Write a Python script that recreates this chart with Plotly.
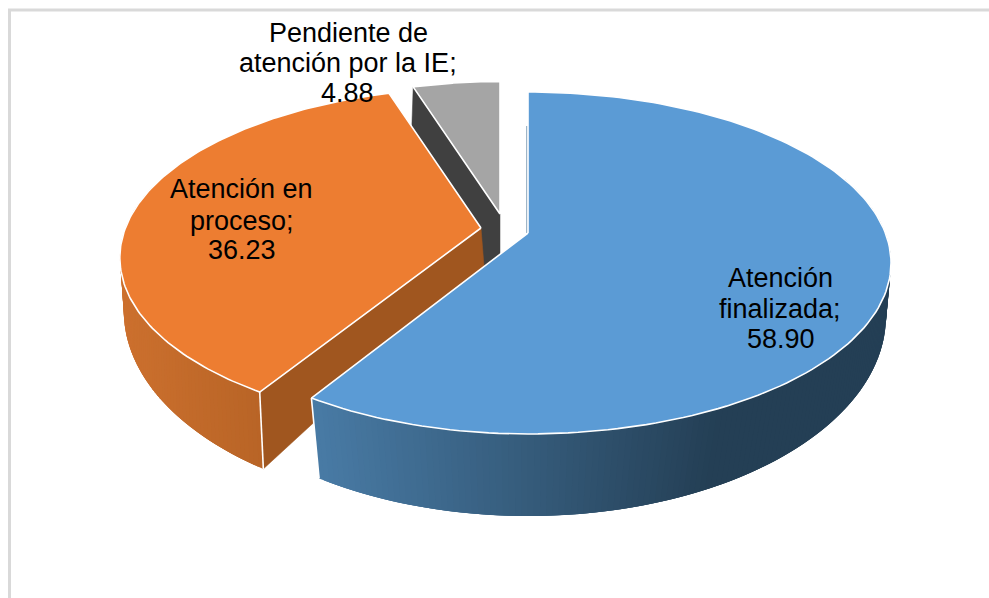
import numpy as np
import plotly.graph_objects as go

# ---- data ----
categories = ["Atención finalizada", "Atención en proceso", "Pendiente de atención por la IE"]
values = [58.90, 36.23, 4.88]
value_labels = ["58.90", "36.23", "4.88"]

# ---- geometry of the perspective pie (pixels) ----
W, H = 989, 598
RX, RY, K = 357.4, 165.7, 0.1754
APEX = [(528, 233), (481, 228), (500, 214)]
APEX_BOTTOM = [[(528, 271)], [(484, 266)], [(478, 272), (500, 260)]]
RADIUS = [1.0, 0.995, 0.93]
LEFT_SCALE = [0.973, 1.0, 1.0]
# bottom rim: ellipse centre x, centre y, angle stretch
BOTTOM = [(528, 316, 0.115), (480, 311, 0.17), (512, 313, 0.0)]
BRX, BRY = 358, 200


def top(i, th):
    r = RADIUS[i]
    u, v = r * np.sin(th), -r * np.cos(th)
    w = 1 - K * v
    x = RX * u / w
    return APEX[i][0] + np.where(x < 0, x * LEFT_SCALE[i], x), APEX[i][1] + RY * v / w


def bot(i, th):
    cx, cy, s = BOTTOM[i]
    a = th + s * (th - np.pi)
    r = RADIUS[i]
    return cx + BRX * r * np.sin(a), cy - BRY * r * np.cos(a)


def mix(c1, c2, t):
    t = max(0.0, min(1.0, t))
    return "rgb(%d,%d,%d)" % tuple(round(a + (b - a) * t) for a, b in zip(c1, c2))


fig = go.Figure()


def poly(xs, ys, color, line=None, lw=0.0):
    fig.add_trace(go.Scatter(x=list(xs), y=list(ys), mode="lines", fill="toself", fillcolor=color,
                             line=dict(color=line or color, width=lw), hoverinfo="skip", showlegend=False))


def stroke(xs, ys, color="#FFFFFF", lw=1.6):
    fig.add_trace(go.Scatter(x=list(xs), y=list(ys), mode="lines", line=dict(color=color, width=lw),
                             hoverinfo="skip", showlegend=False))


def wall(i, a0, a1, c1, c2, x1, x2, n=90):
    ths = np.linspace(a0, a1, n + 1)
    tx, ty = top(i, ths)
    bx, by = bot(i, ths)
    for k in range(n):
        e = min(k + 3, n)
        xs = [tx[k], tx[e], bx[e], bx[k], tx[k]]
        ys = [ty[k], ty[e], by[e], by[k], ty[k]]
        col = mix(c1, c2, ((tx[k] + tx[k + 1]) / 2 - x1) / (x2 - x1))
        poly(xs, ys, col)


def face(i, th, color):
    ax, ay = APEX[i]
    rx0, ry0 = top(i, th)
    rx1, ry1 = bot(i, th)
    xs = [ax, float(rx0), float(rx1)] + [p[0] for p in APEX_BOTTOM[i]] + [ax]
    ys = [ay, float(ry0), float(ry1)] + [p[1] for p in APEX_BOTTOM[i]] + [ay]
    poly(xs, ys, color, lw=0.5)


def top_face(i, a0, a1, color):
    ths = np.linspace(a0, a1, 160)
    px, py = top(i, ths)
    xs = [APEX[i][0]] + list(px) + [APEX[i][0]]
    ys = [APEX[i][1]] + list(py) + [APEX[i][1]]
    poly(xs, ys, color, line="#FFFFFF", lw=1.6)


total = sum(values)
edges = np.concatenate([[0], np.cumsum(values)]) / total * 2 * np.pi
a_blue = (edges[0], edges[1])
a_orange = (edges[1], edges[2])
a_grey = (edges[2], edges[3])

# grey slice
face(2, a_grey[0], "#404040")
top_face(2, a_grey[0], a_grey[1], "#A5A5A5")

# orange slice
face(1, a_orange[0], "#A0561F")
wall(1, a_orange[0], np.radians(285), (184, 100, 38), (204, 112, 46), 262, 122)
xa, ya = top(1, a_orange[0])
xb, yb = bot(1, a_orange[0])
stroke([float(xa), float(xb)], [float(ya), float(yb)])
top_face(1, a_orange[0], a_orange[1], "#ED7D31")

# blue slice
ex, ey = top(0, 0.0)
stroke([float(ex) - 1, APEX[0][0] - 1], [float(ey) + 34, APEX[0][1]], color="#3A6A90", lw=1)
wall(0, a_blue[1], np.radians(70), (72, 122, 164), (36, 63, 85), 318, 720, n=160)
xa, ya = top(0, a_blue[1])
xb, yb = bot(0, a_blue[1])
stroke([float(xa), float(xb)], [float(ya), float(yb)])
top_face(0, a_blue[0], a_blue[1], "#5B9BD5")

# labels: one annotation per line so that the leading matches
label_lines = [
    (["Atención", "finalizada;", value_labels[0]], [(780, 278), (780, 309), (781, 339)]),
    (["Atención en", "proceso;", value_labels[1]], [(241.5, 189), (242, 221), (242, 250)]),
    (["Pendiente de", "atención por la IE;", value_labels[2]], [(348, 33), (347.5, 63), (347.5, 93)]),
]
for lines, pos in label_lines:
    for t, (x, y) in zip(lines, pos):
        fig.add_annotation(x=x, y=y, text=t, showarrow=False, xanchor="center", yanchor="middle",
                           font=dict(family="Liberation Sans, Arial, sans-serif", size=27, color="#000000"))

# chart frame
FRAME = "#D9D9D9"
fig.add_shape(type="line", x0=9.5, x1=9.5, y0=10, y1=598, line=dict(color=FRAME, width=3), layer="below")
fig.add_shape(type="line", x0=8, x1=989, y0=10, y1=10, line=dict(color=FRAME, width=3), layer="below")

fig.update_layout(
    width=W, height=H, margin=dict(l=0, r=0, t=0, b=0), paper_bgcolor="#FFFFFF", plot_bgcolor="#FFFFFF",
    showlegend=False,
    xaxis=dict(range=[0, W], visible=False, fixedrange=True),
    yaxis=dict(range=[H, 0], visible=False, fixedrange=True),
)
fig.write_html("out.html", config={"displayModeBar": False},
               post_script="document.body.style.margin='0';document.body.style.overflow='hidden';")
